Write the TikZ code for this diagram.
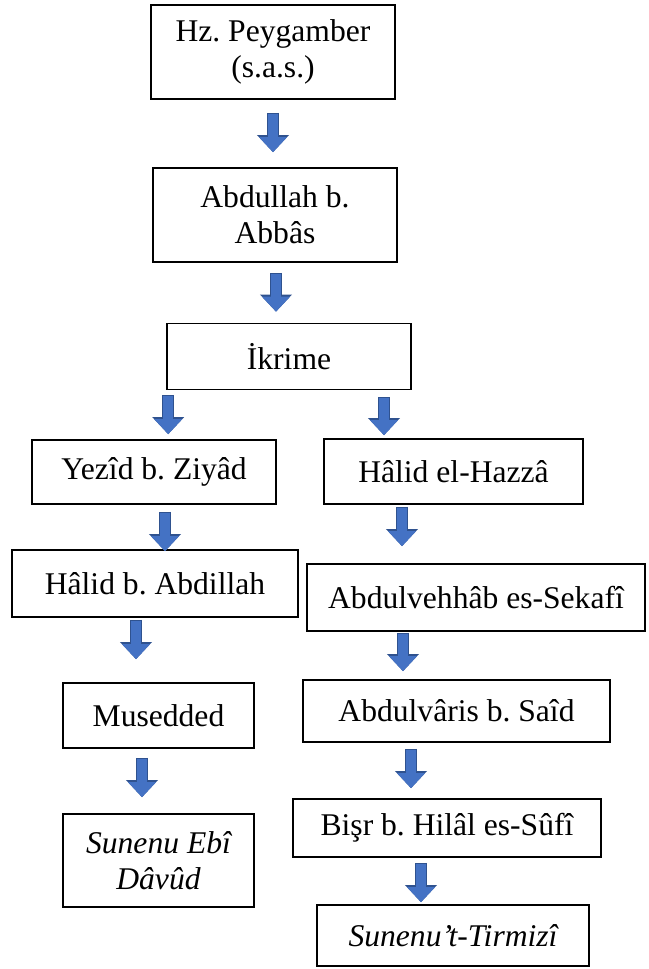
\documentclass[tikz,border=0pt]{standalone}
\usepackage{fontspec}
\setmainfont{Liberation Serif}
\usetikzlibrary{arrows.meta,positioning}
\definecolor{okmavi}{HTML}{4472C4}
\definecolor{okkoyu}{HTML}{2F528F}
\tikzset{
	kutu/.style={draw, line width=0.8pt, align=center, inner sep=0pt, font={\fontsize{15.8}{18}\selectfont\frenchspacing}},
	ok/.style={draw=okmavi, line width=5pt, -{Triangle[width=13.5pt,length=7.5pt]},
		preaction={draw=okkoyu, line width=6pt, shorten <=-0.5pt, -{Triangle[width=15.5pt,length=8.6pt]}}}
}

\begin{document}
\begin{tikzpicture}[x=0.5pt, y=-0.5pt]
			\useasboundingbox (0,0) rectangle (648,969);
			% chain of narrators
			\node[kutu, minimum width=122pt, minimum height=47pt] (peyg) at (273,52) {Hz. Peygamber\\(s.a.s.)};
			\node[kutu, minimum width=122pt, minimum height=47pt] (abd) at (275,215) {Abdullah b.\\Abbâs};
			\node[kutu, minimum width=122pt, minimum height=33pt] (ikrime) at (289,356.5) {İkrime};

			% left branch
			\node[kutu, minimum width=122pt, minimum height=32pt] (yezid) at (154,472) {Yezîd b. Ziyâd};
			\node[kutu, minimum width=143pt, minimum height=33.5pt] (halidb) at (155,583.5) {Hâlid b. Abdillah};
			\node[kutu, minimum width=95.5pt, minimum height=32.5pt] (musedded) at (158.5,715.5) {Musedded};
			\node[kutu, minimum width=95.5pt, minimum height=46.5pt] (ebidavud) at (158.5,860.5) {\itshape Sunenu Ebî\\\itshape Dâvûd};

			% right branch
			\node[kutu, minimum width=129.5pt, minimum height=32.5pt] (hazza) at (453.5,471.5) {Hâlid el-Hazzâ};
			\node[kutu, minimum width=169pt, minimum height=33.5pt] (sekafi) at (476,597.5) {Abdulvehhâb es-Sekafî};
			\node[kutu, minimum width=153.5pt, minimum height=31pt] (abdulvaris) at (456.5,711) {Abdulvâris b. Saîd};
			\node[kutu, minimum width=154pt, minimum height=29pt] (bisr) at (447,828) {Bişr b. Hilâl es-Sûfî};
			\node[kutu, minimum width=136pt, minimum height=30.5pt] (tirmizi) at (453,935.5) {\itshape Sunenu’t-Tirmizî};

			% block arrows
			\draw[ok] ([yshift=-7pt]peyg.south) -- ([yshift=7.5pt]peyg.south |- abd.north);
			\draw[ok] ([xshift=0.5pt,yshift=-5.5pt]abd.south) -- ([xshift=0.5pt,yshift=5.5pt]abd.south |- ikrime.north);
			\draw[ok] ([xshift=1pt,yshift=-3pt]ikrime.south west) -- ([xshift=1pt,yshift=2.5pt]ikrime.south west |- yezid.north);
			\draw[ok] ([xshift=47.5pt,yshift=-4pt]ikrime.south) -- ([xshift=47.5pt,yshift=1.5pt]ikrime.south |- hazza.north);
			\draw[ok] ([xshift=5.5pt,yshift=-4pt]yezid.south) -- ([xshift=5.5pt,yshift=-1pt]yezid.south |- halidb.north);
			\draw[ok] ([xshift=-9.5pt,yshift=-1.5pt]halidb.south) -- ([xshift=-9.5pt,yshift=11.5pt]halidb.south |- musedded.north);
			\draw[ok] ([xshift=-8.25pt,yshift=-5pt]musedded.south) -- ([xshift=-8.25pt,yshift=8pt]musedded.south |- ebidavud.north);
			\draw[ok] ([xshift=-25.75pt,yshift=-1.5pt]hazza.south) -- ([xshift=-25.75pt,yshift=8.5pt]hazza.south |- sekafi.north);
			\draw[ok] ([xshift=-36.5pt,yshift=-1pt]sekafi.south) -- ([xshift=-36.5pt,yshift=4pt]sekafi.south |- abdulvaris.north);
			\draw[ok] ([xshift=-22.75pt,yshift=-3.5pt]abdulvaris.south) -- ([xshift=-22.75pt,yshift=5pt]abdulvaris.south |- bisr.north);
			\draw[ok] ([xshift=-13pt,yshift=-3pt]bisr.south) -- ([xshift=-13pt,yshift=1pt]bisr.south |- tirmizi.north);
		\end{tikzpicture}
\end{document}
